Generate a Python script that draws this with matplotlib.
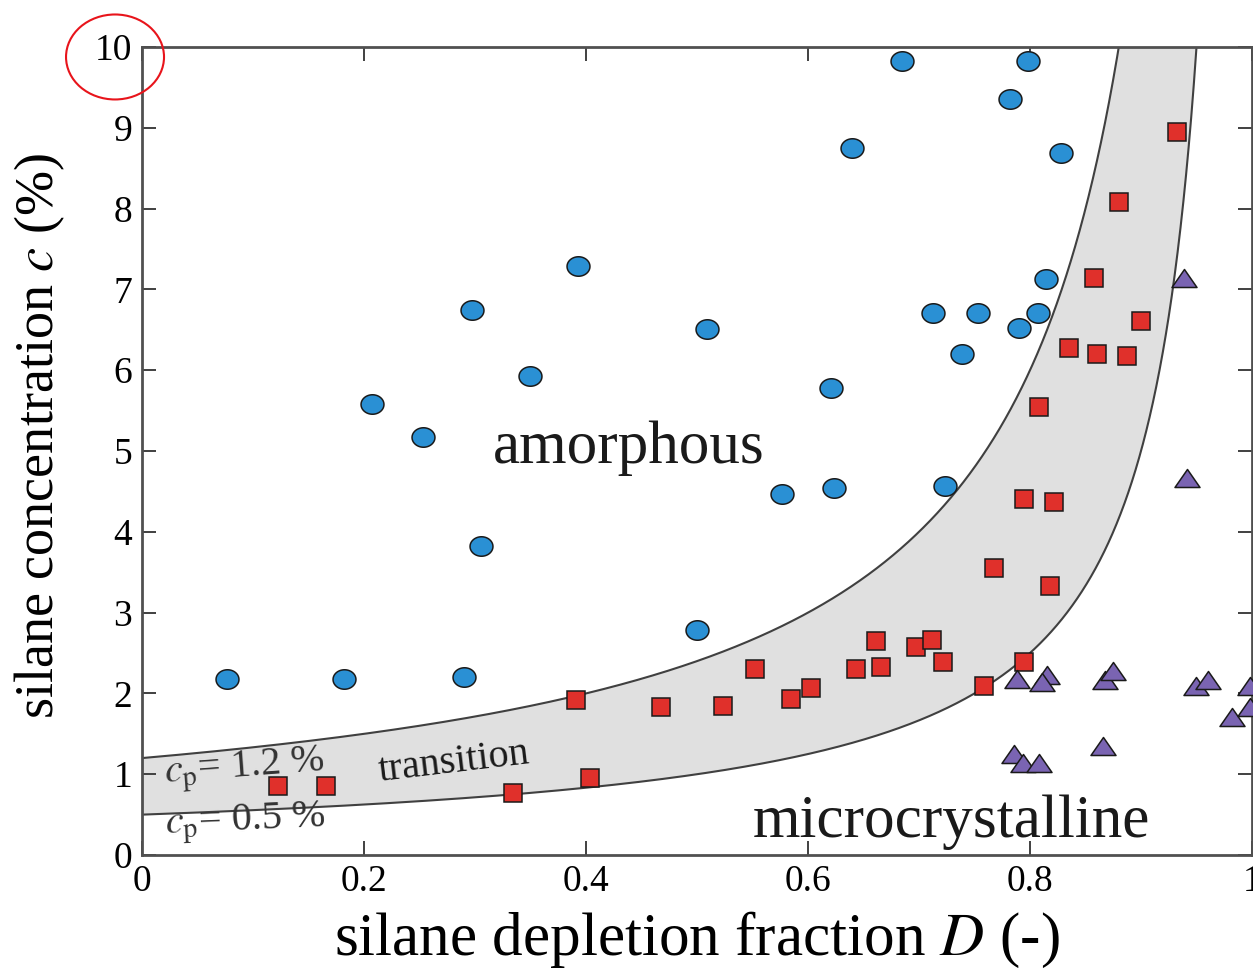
"""
Silane depletion phase diagram: amorphous / transition / microcrystalline
"""

import numpy as np
import matplotlib
matplotlib.use("Agg")
import matplotlib.pyplot as plt
from matplotlib.path import Path
from matplotlib.patches import Ellipse

plt.rcParams["font.family"] = "serif"
plt.rcParams["font.serif"] = ["Liberation Serif", "DejaVu Serif"]
plt.rcParams["mathtext.fontset"] = "stix"

# amorphous samples (blue circles)
amor_D = [0.077, 0.182, 0.207, 0.253, 0.290, 0.297, 0.305, 0.350, 0.393,
          0.500, 0.509, 0.577, 0.621, 0.623, 0.640, 0.685, 0.798, 0.782,
          0.828, 0.814, 0.713, 0.753, 0.807, 0.790, 0.739, 0.723]
amor_c = [2.18, 2.18, 5.58, 5.17, 2.20, 6.74, 3.82, 5.93, 7.29,
          2.78, 6.51, 4.47, 5.78, 4.54, 8.75, 9.83, 9.83, 9.36,
          8.69, 7.13, 6.71, 6.71, 6.71, 6.52, 6.20, 4.57]

# transition samples (red squares)
trans_D = [0.123, 0.166, 0.334, 0.404, 0.391, 0.468, 0.523, 0.552, 0.585,
           0.603, 0.643, 0.666, 0.661, 0.697, 0.712, 0.722, 0.759, 0.795,
           0.932, 0.880, 0.858, 0.900, 0.835, 0.860, 0.887, 0.808, 0.795,
           0.822, 0.768, 0.818]
trans_c = [0.85, 0.85, 0.77, 0.95, 1.92, 1.83, 1.84, 2.30, 1.93,
           2.07, 2.30, 2.33, 2.65, 2.57, 2.66, 2.39, 2.09, 2.39,
           8.95, 8.08, 7.14, 6.61, 6.27, 6.20, 6.18, 5.54, 4.41,
           4.37, 3.55, 3.33]

# microcrystalline samples (purple triangles)
micro_D = [0.939, 0.941, 0.788, 0.815, 0.811, 0.868, 0.875, 0.950, 0.960,
           0.982, 0.998, 0.998, 0.786, 0.794, 0.808, 0.866]
micro_c = [7.14, 4.67, 2.18, 2.23, 2.14, 2.17, 2.28, 2.09, 2.17,
           1.71, 2.09, 1.83, 1.25, 1.14, 1.14, 1.35]

# transition band limits c = cp / (1 - D)
cp_low = 0.5
cp_high = 1.2

x_ticks = [0, 0.2, 0.4, 0.6, 0.8, 1]
x_tick_labels = ["0", "0.2", "0.4", "0.6", "0.8", "1"]
y_ticks = list(range(0, 11))


def make_markers():
    t = np.linspace(0, 2 * np.pi, 60)
    ellipse = Path(np.column_stack([np.cos(t), 0.85 * np.sin(t)]), closed=True)
    tri = Path([(0, 0.72), (-1, -0.72), (1, -0.72), (0, 0.72)], closed=True)
    return ellipse, tri


def main():
    fig = plt.figure(figsize=(12.53, 9.69), dpi=100)
    ax = fig.add_axes([0.1133, 0.1176, 0.8859, 0.8339])

    D = np.linspace(0, 0.995, 3000)
    lower = cp_low / (1 - D)
    upper = cp_high / (1 - D)
    ax.fill_between(D, lower, upper, color="#e0e0e0", lw=0, zorder=1)
    ax.plot(D, lower, color="#404040", lw=1.5, zorder=2)
    ax.plot(D, upper, color="#404040", lw=1.5, zorder=2)

    ellipse, tri = make_markers()
    ax.plot(amor_D, amor_c, ls="none", marker=ellipse, ms=16.5,
            mfc="#2a90d4", mec="#1a1a1a", mew=1.1, zorder=3)
    ax.plot(trans_D, trans_c, ls="none", marker="s", ms=12.5,
            mfc="#e0302b", mec="#1a1a1a", mew=1.1, zorder=3)
    ax.plot(micro_D, micro_c, ls="none", marker=tri, ms=18,
            mfc="#7a64b2", mec="#1a1a1a", mew=1.1, zorder=3)

    ax.set_xlim(0, 1)
    ax.set_ylim(0, 10)
    ax.set_xticks(x_ticks)
    ax.set_xticklabels(x_tick_labels)
    ax.set_yticks(y_ticks)
    ax.tick_params(direction="in", top=True, right=True, length=10,
                   width=1.4, color="#404040", labelsize=27, pad=7)
    for sp in ax.spines.values():
        sp.set_color("#505050")
        sp.set_linewidth(2)

    ax.set_xlabel(r"silane depletion fraction $D$ (-)", fontsize=44, va="center")
    ax.xaxis.set_label_coords(0.5, -0.105)
    ax.set_ylabel(r"silane concentration $c$ (%)", fontsize=39, va="center")
    ax.yaxis.set_label_coords(-0.092, 0.519)

    ax.text(0.4387, 4.85, "amorphous", fontsize=44, ha="center",
            va="baseline", color="#1a1a1a")
    ax.text(0.729, 0.22, "microcrystalline", fontsize=44, ha="center",
            va="baseline", color="#1a1a1a")
    ax.text(0.282, 1.03, "transition", fontsize=29, ha="center",
            va="baseline", rotation=6.8, rotation_mode="anchor", color="#1a1a1a")
    ax.text(0.021, 0.90, r"$c_\mathrm{p}$= %.1f %%" % cp_high, fontsize=29,
            ha="left", va="baseline", rotation=4.3, rotation_mode="anchor",
            color="#333333")
    ax.text(0.021, 0.27, r"$c_\mathrm{p}$= %.1f %%" % cp_low, fontsize=29,
            ha="left", va="baseline", rotation=2.5, rotation_mode="anchor",
            color="#333333")

    # red highlight around the top tick label
    fig.patches.append(Ellipse((0.0918, 0.9412), 0.0782, 0.0877,
                               transform=fig.transFigure, fill=False,
                               edgecolor="#e8141b", lw=1.5))

    fig.savefig("out.png", dpi=100)
    plt.close(fig)


if __name__ == "__main__":
    main()
